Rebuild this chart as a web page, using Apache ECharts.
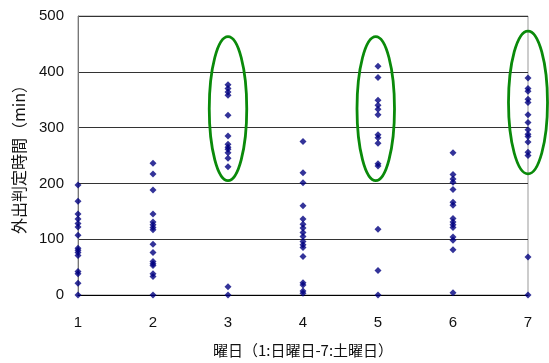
<!DOCTYPE html>
<html><head><meta charset="utf-8">
<script src="https://cdn.jsdelivr.net/npm/echarts@6/dist/echarts.min.js"></script>
<style>html,body{margin:0;padding:0;background:#fff}#c{width:549px;height:363px}</style>
</head><body><div id="c"></div>
<script>
const days = [1, 2, 3, 4, 5, 6, 7];
const day1 = [197, 168, 145, 136, 128, 122, 107, 84, 80, 76, 71, 42, 38, 21, 0];
const day2 = [236, 217, 188, 145, 131, 126, 121, 117, 91, 76, 60, 56, 53, 38, 33, 0];
const day3 = [377, 370, 364, 358, 322, 285, 270, 265, 261, 255, 245, 230, 15, 0];
const day4 = [275, 219, 201, 160, 136, 127, 120, 112, 105, 96, 90, 85, 69, 22, 18, 7, 3];
const day5 = [410, 390, 349, 340, 333, 323, 287, 282, 272, 235, 231, 118, 44, 0];
const day6 = [255, 216, 208, 202, 189, 166, 161, 137, 131, 126, 121, 104, 98, 81, 4];
const day7 = [389, 370, 365, 351, 345, 323, 309, 296, 288, 284, 274, 256, 250, 68, 0];
const yTicks = [0, 100, 200, 300, 400, 500];
// highlight ellipses in data units: [centerX, centerY], radii
const ellipseCenters = [[3, 334], [4.97, 334], [7, 345]];
const ellipseRadiiX = [0.25, 0.25, 0.26];
const ellipseRadiiY = [129, 129, 128];

const allDays = [day1, day2, day3, day4, day5, day6, day7];
const points = [];
allDays.forEach((vals, i) => vals.forEach(v => points.push([days[i], v])));

const FONT = '"Liberation Sans", "Noto Sans CJK JP", sans-serif';
const chart = echarts.init(document.getElementById('c'), null, {renderer: 'canvas'});
chart.setOption({
  animation: false,
  backgroundColor: '#fff',
  grid: {left: 78, right: 21, top: 16, bottom: 66, show: true, borderColor: '#999', borderWidth: 1, backgroundColor: 'transparent'},
  xAxis: {
    type: 'value', min: 1, max: 7, interval: 1,
    name: '曜日（1:日曜日-7:土曜日）', nameLocation: 'middle', nameGap: 48,
    nameTextStyle: {fontSize: 15, color: '#111', fontFamily: '"Noto Sans CJK JP", sans-serif'},
    axisLine: {show: true, lineStyle: {color: '#000'}},
    axisTick: {show: false},
    axisLabel: {fontSize: 15, color: '#111', margin: 20, fontFamily: FONT},
    splitLine: {show: false}
  },
  yAxis: {
    type: 'value', min: 0, max: 500, interval: 100,
    name: '外出判定時間（min）', nameLocation: 'middle', nameGap: 51,
    nameTextStyle: {fontSize: 16, color: '#111', fontFamily: '"Noto Sans CJK JP", sans-serif'},
    axisLine: {show: true, lineStyle: {color: '#777'}},
    axisTick: {show: false},
    axisLabel: {fontSize: 15, color: '#111', margin: 14, fontFamily: FONT,
      formatter: v => yTicks.includes(v) ? String(v) : ''},
    splitLine: {show: true, lineStyle: {color: '#333', width: 1}}
  },
  series: [{
    type: 'scatter', data: points, symbol: 'diamond', symbolSize: 7,
    itemStyle: {color: '#000080'}, z: 5
  }]
});

function drawEllipses() {
  const els = ellipseCenters.map((c, i) => {
    const p = chart.convertToPixel({gridIndex: 0}, c);
    const px = chart.convertToPixel({gridIndex: 0}, [c[0] + ellipseRadiiX[i], c[1] + ellipseRadiiY[i]]);
    return {
      type: 'ellipse', z: 10,
      shape: {cx: p[0], cy: p[1], rx: Math.abs(px[0] - p[0]), ry: Math.abs(p[1] - px[1])},
      style: {fill: 'none', stroke: '#0a8a0a', lineWidth: 2.8}
    };
  });
  chart.setOption({graphic: {elements: els}});
}
drawEllipses();
</script></body></html>
